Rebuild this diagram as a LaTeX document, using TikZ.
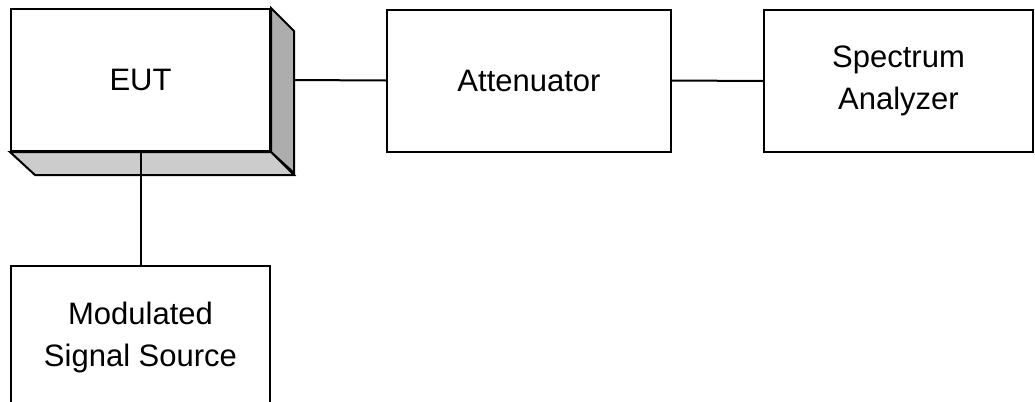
\documentclass[tikz,border=0pt]{standalone}
\usepackage{fontspec}
\setmainfont{Liberation Sans}
\usepackage{tikz}
\usepackage{xcolor}
\definecolor{sidegray}{gray}{0.68}
\definecolor{basegray}{gray}{0.80}
\def\depth{23}
\tikzset{
  unit/.style={draw=black, line width=1pt, fill=white, align=center,
    minimum height=71pt, inner sep=0pt,
    font=\fontsize{15.5}{21}\selectfont},
  wire/.style={line width=1pt}
}

\begin{document}
\begin{tikzpicture}[x=0.5pt, y=-0.5pt]
    \useasboundingbox (0,0) rectangle (1035,402);
    \clip (0,0) rectangle (1035,402);
    % boxes
    \node[unit, minimum width=129.5pt] (eut) at (140.5,80) {EUT};
    \node[unit, minimum width=142pt] (att) at (529,80.5) {Attenuator};
    \node[unit, minimum width=134.5pt] (spec) at (898.5,81) {Spectrum\\Analyzer};
    \node[unit, minimum width=129.5pt] (mod) at (140.5,337) {Modulated\\Signal Source};
    % depth of the EUT box
    \fill[sidegray, draw=black, line width=1pt] (eut.north east) -- ++(\depth,\depth)
      -- ++(0,142) -- (eut.south east) -- cycle;
    \fill[basegray, draw=black, line width=1pt] (eut.south west) -- (eut.south east)
      -- ++(\depth,\depth) -- ++(-259,0) -- cycle;
    \path (eut.east) ++(\depth,0) coordinate (eutside);
    % connections
    \draw[wire] (eutside) -- (att.west);
    \draw[wire] (att.east) -- (spec.west);
    \draw[wire] (eut.south) -- (mod.north);
  \end{tikzpicture}
\end{document}
